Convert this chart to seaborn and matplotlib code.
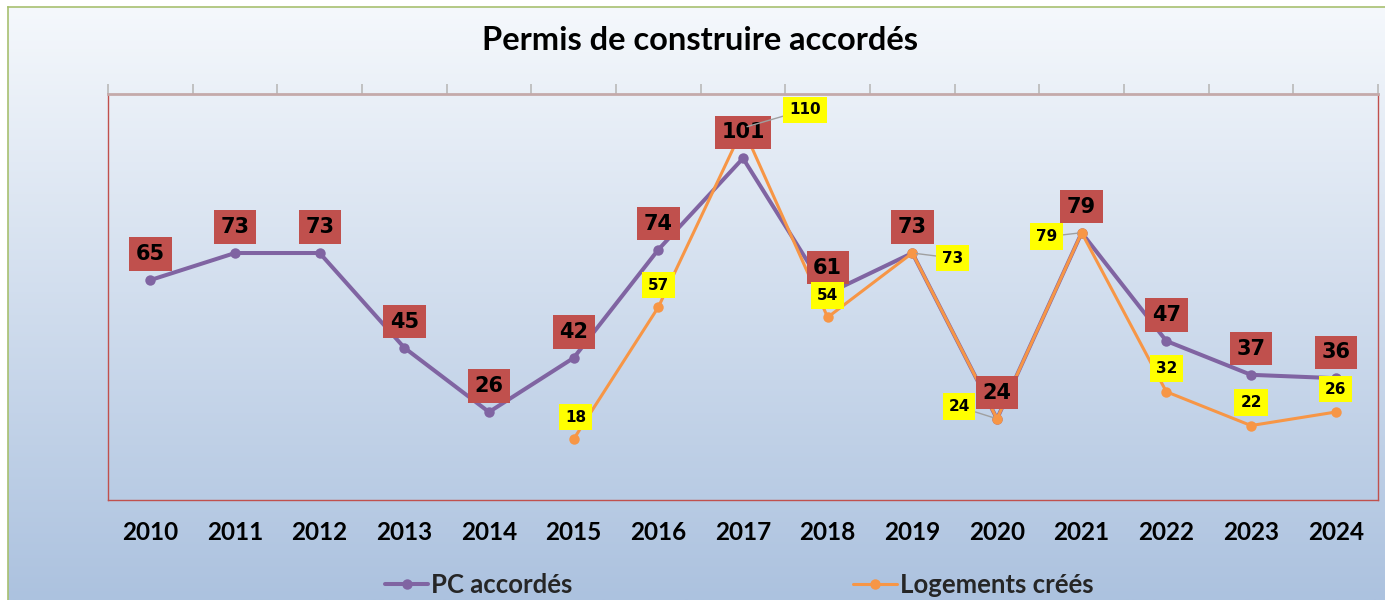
import numpy as np
import pandas as pd
import matplotlib
matplotlib.use("Agg")
import matplotlib.pyplot as plt
from matplotlib.ticker import FixedLocator
from matplotlib.colors import to_rgb
import seaborn as sns

# ---------------- data ----------------
years = ["2010", "2011", "2012", "2013", "2014", "2015", "2016", "2017",
         "2018", "2019", "2020", "2021", "2022", "2023", "2024"]
pc_accordes = [65, 73, 73, 45, 26, 42, 74, 101, 61, 73, 24, 79, 47, 37, 36]
logements_crees = [np.nan, np.nan, np.nan, np.nan, np.nan,
                   18, 57, 110, 54, 73, 24, 79, 32, 22, 26]
series_names = ["PC accordés", "Logements créés"]
title = "Permis de construire accordés"

# ---------------- styles ----------------
PURPLE = "#8064a2"
ORANGE = "#f79646"
RED_BOX = "#c0504d"
YELLOW_BOX = "#ffff00"
TOP_BG = "#f5f8fc"
BOTTOM_BG = "#acc2df"

# label offsets in pixels (dx, dy up) and whether a leader line is drawn
pc_offsets = [(0, 26)] * len(years)
log_offsets = [None, None, None, None, None,
               (2, 22), (0, 22), (62, 18), (0, 22), (40, -5),
               (-38, 12), (-35, -4), (0, 23), (0, 23), (0, 23)]
log_leader = [False] * 7 + [True, False, True, True, True, False, False, False]

sns.set_style("white")
plt.rcParams["font.family"] = ["Lato", "DejaVu Sans"]

W, H = 1385, 600
fig = plt.figure(figsize=(W / 100, H / 100), dpi=100)
fig.patch.set_facecolor("white")

# gradient background (chart area)
bg = fig.add_axes([8 / W, 0, 1 - 8 / W, (H - 7) / H], zorder=-10)
t = np.linspace(0, 1, 256)[:, None, None]
grad = (1 - t) * np.array(to_rgb(TOP_BG)) + t * np.array(to_rgb(BOTTOM_BG))
grad = np.repeat(grad, 2, axis=1)
bg.imshow(grad, aspect="auto", extent=[0, 1, 0, 1])
bg.set_xticks([])
bg.set_yticks([])
for s in ["right", "bottom"]:
    bg.spines[s].set_visible(False)
for s in ["left", "top"]:
    bg.spines[s].set_color("#a8c070")
    bg.spines[s].set_linewidth(1.2)

# plot area
ax = fig.add_axes([108 / W, 1 - 500 / H, 1270 / W, 406 / H])
ax.set_facecolor("none")

x_idx = np.arange(len(years))
df = pd.DataFrame({"x": x_idx, "pc": pc_accordes, "log": logements_crees})

sns.lineplot(data=df, x="x", y="pc", ax=ax, color=PURPLE, linewidth=2.9,
             marker="o", markersize=7.5, markeredgewidth=0,
             label=series_names[0], zorder=2)
df_log = df.dropna(subset=["log"])
sns.lineplot(data=df_log, x="x", y="log", ax=ax, color=ORANGE, linewidth=2.2,
             marker="o", markersize=7.5, markeredgewidth=0,
             label=series_names[1], zorder=3)

ax.set_xlim(-0.5, len(years) - 0.5)
ax.set_ylim(0, 120)
ax.set_xlabel("")
ax.set_ylabel("")
ax.set_yticks([])
ax.set_xticks(x_idx)
ax.set_xticklabels(years, fontsize=17.5, fontweight="bold", color="black")
ax.tick_params(axis="x", which="major", length=0, pad=15)
ax.xaxis.set_minor_locator(FixedLocator(np.arange(-0.5, len(years), 1.0)))
ax.tick_params(axis="x", which="minor", bottom=False, top=True,
               length=7, width=1.2, color="#b9b9b9", direction="out")
for s in ["left", "right", "bottom"]:
    ax.spines[s].set_color("#c0504d")
    ax.spines[s].set_linewidth(1.0)
ax.spines["top"].set_color("#c4aaaa")
ax.spines["top"].set_linewidth(2.0)

PX = 72 / 100  # pixels -> points

# data labels PC accordés
for i, v in enumerate(pc_accordes):
    dx, dy = pc_offsets[i]
    ax.annotate(str(v), (i, v), xytext=(dx * PX, dy * PX),
                textcoords="offset points", ha="center", va="center",
                fontsize=15, fontweight="bold", family="DejaVu Sans",
                color="black",
                bbox=dict(boxstyle="square,pad=0.32", fc=RED_BOX, ec="none"),
                zorder=5)

# data labels Logements créés
for i, v in enumerate(logements_crees):
    if np.isnan(v):
        continue
    dx, dy = log_offsets[i]
    kw = {}
    if log_leader[i]:
        kw["arrowprops"] = dict(arrowstyle="-", color="#a0a0a0", lw=1.0,
                                shrinkA=0, shrinkB=3)
    ax.annotate(str(int(v)), (i, v), xytext=(dx * PX, dy * PX),
                textcoords="offset points", ha="center", va="center",
                fontsize=11, fontweight="bold", family="DejaVu Sans",
                color="black",
                bbox=dict(boxstyle="square,pad=0.38", fc=YELLOW_BOX, ec="none"),
                zorder=6, **kw)

# title
fig.text(700 / W, 1 - 40 / H, title, ha="center", va="center",
         fontsize=23.5, fontweight="bold", color="black")

# legend
handles, labels = ax.get_legend_handles_labels()
ax.get_legend().remove()
fig.legend(handles, labels, loc="center", bbox_to_anchor=(739 / W, 1 - 585 / H),
           ncol=2, frameon=False, prop={"family": "Lato", "weight": "bold", "size": 18.5},
           handlelength=1.7, handletextpad=0.12, columnspacing=10.9)

fig.savefig("out.png", dpi=100)
